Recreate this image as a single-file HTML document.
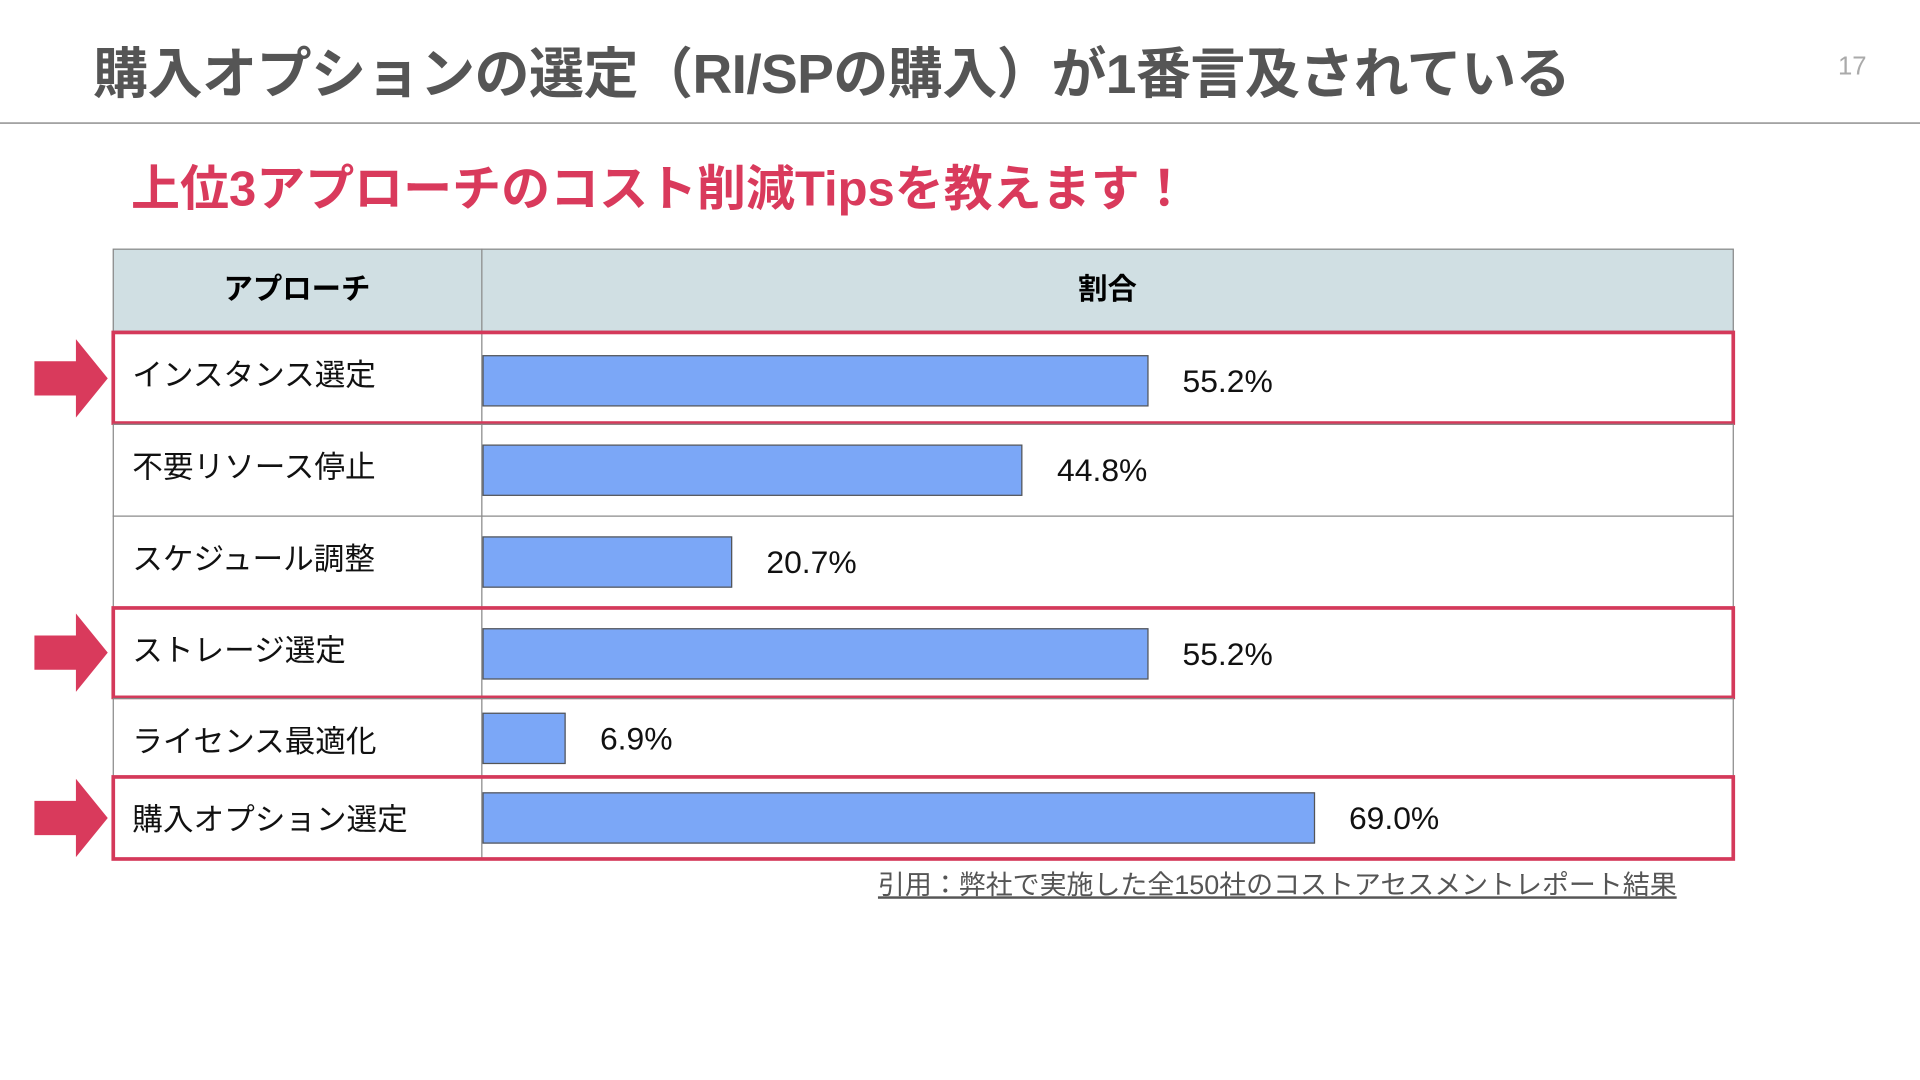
<!DOCTYPE html>
<html><head><meta charset="utf-8">
<style>
html,body{margin:0;padding:0;background:#fff;overflow:hidden}
#stage{position:relative;width:1568px;height:882px;transform:scale(1.22449);transform-origin:0 0;font-family:"Liberation Sans","Noto Sans CJK JP",sans-serif}
.abs{position:absolute}
</style></head><body>
<div id="stage">
  <div class="abs" style="left:76px;top:24px;font-size:45px;font-weight:bold;color:#555;white-space:nowrap;letter-spacing:-0.5px">購入オプションの選定（RI/SPの購入）が1番言及されている</div>
  <div class="abs" style="left:1501px;top:43px;font-size:21px;color:#aaa">17</div>
  <div class="abs" style="left:0;top:100px;width:1568px;height:1px;background:#777"></div>
  <div class="abs" style="left:107px;top:122px;font-size:40px;font-weight:bold;color:#d93a5c;white-space:nowrap">上位3アプローチのコスト削減Tipsを教えます！</div>
  <div id="table" class="abs" style="left:0;top:0"></div>
  <div class="abs" style="left:717px;top:705px;font-size:22px;color:#555;text-decoration:underline;white-space:nowrap">引用：弊社で実施した全150社のコストアセスメントレポート結果</div>
</div>
<script>
const categories=["インスタンス選定","不要リソース停止","スケジュール調整","ストレージ選定","ライセンス最適化","購入オプション選定"];
const values=[55.2,44.8,20.7,55.2,6.9,69.0];
const valueLabels=["55.2%","44.8%","20.7%","55.2%","6.9%","69.0%"];
const highlighted=[true,false,false,true,false,true];

const st=document.getElementById('stage');
const L=92,R=1416,DIV=393,TOP=203,HEAD=271;
const rowTops=[271,346,421,496,570,634,702];
const barOff=[19,17,17,17,12,13];
const x=v=>DIV+1+v*9.85;
function box(css,name){const d=document.createElement('div');d.className='abs';d.style.cssText=css;


st.appendChild(d);return d;}
box(`left:${L}px;top:${TOP}px;width:${R-L}px;height:${HEAD-TOP}px;background:#d0dfe3;border:1px solid #888;box-sizing:border-box`,'table-header');
let h1=box(`left:${L}px;top:${TOP}px;width:${DIV-L}px;height:${HEAD-TOP}px;line-height:${HEAD-TOP}px;text-align:center;font-size:24px;font-weight:bold`,'header-approach');h1.textContent='アプローチ';
let h2=box(`left:${DIV}px;top:${TOP}px;width:${R-DIV}px;height:${HEAD-TOP}px;line-height:${HEAD-TOP}px;text-align:center;font-size:24px;font-weight:bold`,'header-ratio');h2.textContent='割合';
box(`left:${L}px;top:${HEAD}px;width:${R-L}px;height:${rowTops[6]-HEAD}px;border:1px solid #888;box-sizing:border-box`,'table-body');
box(`left:${DIV}px;top:${TOP}px;width:1px;height:${rowTops[6]-TOP}px;background:#888`,'column-divider');
categories.forEach((c,i)=>{
  const t=rowTops[i],b=rowTops[i+1];
  if(i>0)box(`left:${L}px;top:${t}px;width:${R-L}px;height:1px;background:#888`,'row-divider');
  const lab=box(`left:108px;top:${t+16}px;font-size:25px;color:#111;white-space:nowrap`,'row-label');lab.textContent=c;
  const by=t+barOff[i];
  box(`left:${DIV+1}px;top:${by}px;width:${x(values[i])-DIV-1}px;height:42px;background:#7ba7f7;border:1px solid #555;box-sizing:border-box`,'bar');
  const vl=box(`left:${x(values[i])+28}px;top:${by+6}px;font-size:26px;color:#111;white-space:nowrap`,'value-label');vl.textContent=valueLabels[i];
  if(highlighted[i]){
    box(`left:${L-1}px;top:${t-1}px;width:${R-L+2}px;height:${b-t+2}px;border:3px solid #d4395a;box-sizing:border-box`,'highlight-box');
    const cy=(t+b)/2;
    const a=box(`left:28px;top:${cy-32}px;width:62px;height:64px`,'highlight-arrow');
    a.innerHTML='<svg width="62" height="64"><polygon points="0,18 34,18 34,0 60,32 34,64 34,46 0,46" fill="#d93a5c"/></svg>';
  }
});
</script>
</body></html>
